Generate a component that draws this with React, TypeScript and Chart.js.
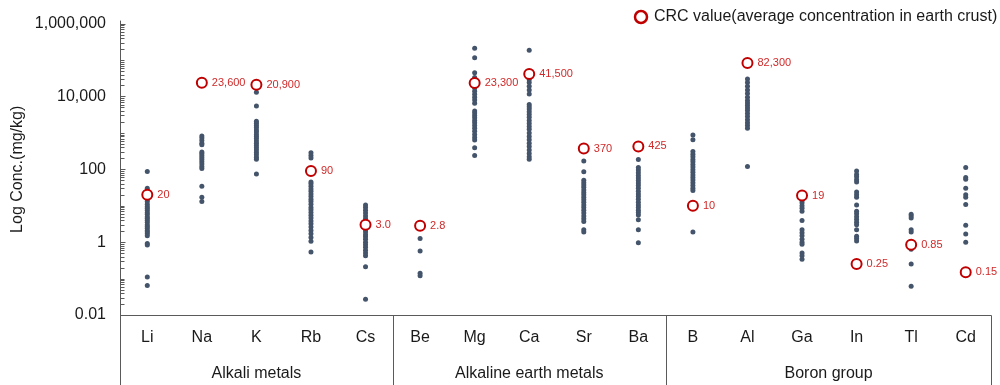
import React, { useEffect, useRef } from 'react';
import { Chart, registerables } from 'chart.js';

Chart.register(...registerables);

const elements = ['Li', 'Na', 'K', 'Rb', 'Cs', 'Be', 'Mg', 'Ca', 'Sr', 'Ba', 'B', 'Al', 'Ga', 'In', 'Tl', 'Cd'];
const groupNames = ['Alkali metals', 'Alkaline earth metals', 'Boron group'];
const groupSizes = [5, 5, 6];

const crcValues = [20, 23600, 20900, 90, 3.0, 2.8, 23300, 41500, 370, 425, 10, 82300, 19, 0.25, 0.85, 0.15];
const crcLabels = ['20', '23,600', '20,900', '90', '3.0', '2.8', '23,300', '41,500', '370', '425', '10', '82,300', '19', '0.25', '0.85', '0.15'];

const liValues = [87, 30, 25, 15, 13, 11, 9.5, 8.5, 7.5, 6.5, 5.8, 5, 4.5, 4, 3.5, 3, 2.7, 2.4, 2.1, 1.9, 1.7, 1.5, 0.92, 0.84, 0.11, 0.065];
const naValues = [820, 720, 620, 520, 470, 300, 270, 240, 210, 185, 160, 140, 120, 105, 34, 17, 13];
const kValues = [13000, 5500, 2100, 1850, 1600, 1400, 1200, 1050, 900, 800, 700, 600, 520, 450, 390, 340, 290, 250, 215, 190, 74];
const rbValues = [285, 240, 205, 45, 40, 34, 29, 25, 21, 18, 15, 13, 11, 9, 7.8, 6.5, 5.5, 4.6, 3.8, 3.2, 2.6, 2.1, 1.7, 1.35, 1.06, 0.54];
const csValues = [10.5, 9, 7.5, 6.3, 5.2, 4.4, 3.6, 3.1, 2.6, 2.2, 1.9, 1.6, 1.4, 1.2, 1.0, 0.85, 0.72, 0.6, 0.5, 0.42, 0.21, 0.027];
const beValues = [1.25, 0.57, 0.14, 0.12];
const mgValues = [210000, 115000, 45000, 33000, 17000, 14000, 11500, 9500, 8000, 6500, 4000, 3500, 3000, 2600, 2200, 1900, 1600, 1350, 1100, 900, 750, 640, 390, 240];
const caValues = [185000, 34000, 29000, 24000, 19000, 15000, 11700, 6000, 5200, 4500, 3800, 3200, 2700, 2200, 1800, 1500, 1250, 1000, 800, 650, 520, 420, 340, 270, 220, 190];
const srValues = [170, 86, 50, 43, 37, 32, 27, 23, 20, 17, 14.5, 12.5, 10.5, 9, 7.5, 6.3, 5.2, 4.4, 3.7, 2.2, 1.9];
const baValues = [187, 112, 95, 80, 68, 58, 49, 42, 36, 30, 25, 21, 18, 15, 12.5, 10.5, 9, 7.5, 6.5, 5.6, 4.1, 2.2, 0.96];
const bValues = [880, 650, 310, 260, 220, 185, 160, 135, 115, 97, 83, 70, 60, 51, 43, 36, 30, 26, 1.9];
const alValues = [30000, 24000, 19000, 15000, 12000, 9500, 7800, 6600, 5600, 4800, 4100, 3400, 2800, 2300, 1900, 1600, 1350, 120];
const gaValues = [14, 12, 10, 8.5, 7, 3.9, 2.2, 1.8, 1.5, 1.2, 1.0, 0.87, 0.5, 0.42, 0.34];
const inValues = [90, 72, 62, 52, 45, 24, 20, 17, 10.4, 7, 6, 5, 4.2, 3.5, 3, 2.2, 1.45, 1.25, 1.08];
const tlValues = [5.8, 5.2, 4.6, 2.2, 1.9, 0.64, 0.25, 0.062];
const cdValues = [112, 60, 53, 30, 20, 17, 10.8, 2.9, 1.67, 1.0];

const sampleSeries = [liValues, naValues, kValues, rbValues, csValues, beValues, mgValues, caValues, srValues, baValues, bValues, alValues, gaValues, inValues, tlValues, cdValues];

const yTickValues = [0.01, 1, 100, 10000, 1000000];
const yTickLabels = ['0.01', '1', '100', '10,000', '1,000,000'];

const legendText = 'CRC value(average concentration in earth crust)';
const yTitle = 'Log Conc.(mg/kg)';

const FONT = '"Liberation Sans", Arial, sans-serif';
const DOT = '#44546A';
const RED = '#C00000';
const RED_TEXT = '#D02A2A';
const LINE = '#5a5a5a';

function allLogTicks(min: number, max: number) {
  const out: number[] = [];
  const e0 = Math.round(Math.log10(min));
  const e1 = Math.round(Math.log10(max));
  for (let e = e0; e < e1; e++) {
    for (let m = 1; m <= 9; m++) out.push(m * Math.pow(10, e));
  }
  out.push(max);
  return out;
}

function labelFor(v: number) {
  for (let i = 0; i < yTickValues.length; i++) {
    if (Math.abs(Math.log10(v) - Math.log10(yTickValues[i])) < 1e-6) return yTickLabels[i];
  }
  return '';
}

const decorPlugin = {
  id: 'decor',
  afterDatasetsDraw(chart: any) {
    const ctx = chart.ctx;
    const crcMeta = chart.getDatasetMeta(0);
    ctx.save();
    ctx.font = `11px ${FONT}`;
    ctx.fillStyle = RED_TEXT;
    ctx.textAlign = 'left';
    ctx.textBaseline = 'middle';
    crcMeta.data.forEach((pt: any, i: number) => {
      ctx.fillText(crcLabels[i], pt.x + 10, pt.y);
    });
    ctx.restore();
  },
  afterDraw(chart: any) {
    const ctx = chart.ctx;
    const xs = chart.scales.x;
    const ys = chart.scales.y;
    const { left, right, top, bottom } = chart.chartArea;
    const H = chart.height;
    ctx.save();
    ctx.strokeStyle = LINE;
    ctx.lineWidth = 1;
    const ax = Math.round(left) + 0.5;
    const by = Math.round(bottom) + 0.5;
    const rx = Math.round(right) - 1.5;
    ctx.beginPath();
    ctx.moveTo(ax, top - 3);
    ctx.lineTo(ax, H);
    ctx.stroke();
    // inward ticks
    const ticks = allLogTicks(0.01, 1000000);
    ctx.beginPath();
    ticks.forEach((v) => {
      const py = Math.round(ys.getPixelForValue(v)) + 0.5;
      const len = labelFor(v) ? 5 : 4;
      ctx.moveTo(ax, py);
      ctx.lineTo(ax + len, py);
    });
    ctx.stroke();
    // table
    ctx.beginPath();
    ctx.moveTo(ax, by);
    ctx.lineTo(rx, by);
    ctx.moveTo(rx, by);
    ctx.lineTo(rx, H);
    ctx.stroke();
    let idx = 0;
    let startX = left;
    ctx.font = `16px ${FONT}`;
    ctx.fillStyle = '#1a1a1a';
    ctx.textAlign = 'center';
    ctx.textBaseline = 'middle';
    groupSizes.forEach((size, g) => {
      idx += size;
      let endX = rx;
      if (idx < elements.length) {
        endX = (xs.getPixelForValue(idx - 1) + xs.getPixelForValue(idx)) / 2;
        const sx = Math.round(endX) + 0.5;
        ctx.beginPath();
        ctx.moveTo(sx, by);
        ctx.lineTo(sx, H);
        ctx.stroke();
      }
      ctx.fillText(groupNames[g], (startX + endX) / 2, 374);
      startX = endX;
    });
    // legend
    ctx.beginPath();
    ctx.strokeStyle = RED;
    ctx.lineWidth = 2.5;
    ctx.fillStyle = '#fff';
    ctx.arc(641, 17, 6, 0, Math.PI * 2);
    ctx.fill();
    ctx.stroke();
    ctx.fillStyle = '#1a1a1a';
    ctx.textAlign = 'left';
    ctx.font = `16px ${FONT}`;
    ctx.fillText(legendText, 654, 17);
    ctx.restore();
  },
};

export default function App() {
  const canvasRef = useRef<HTMLCanvasElement | null>(null);

  useEffect(() => {
    if (!canvasRef.current) return;
    const sampleData: { x: string; y: number }[] = [];
    sampleSeries.forEach((arr, i) => arr.forEach((v) => sampleData.push({ x: elements[i], y: v })));
    const crcData = crcValues.map((v, i) => ({ x: elements[i], y: v }));

    const chart = new Chart(canvasRef.current, {
      type: 'scatter',
      data: {
        labels: elements,
        datasets: [
          {
            label: legendText,
            data: crcData,
            pointRadius: 5,
            pointBorderWidth: 2,
            borderColor: RED,
            backgroundColor: '#ffffff',
            pointBackgroundColor: '#ffffff',
            pointBorderColor: RED,
          },
          {
            label: 'samples',
            data: sampleData,
            pointRadius: 2.5,
            pointBorderWidth: 0,
            backgroundColor: DOT,
            borderColor: DOT,
            pointBackgroundColor: DOT,
          },
        ],
      },
      options: {
        responsive: false,
        animation: false,
        devicePixelRatio: 1,
        layout: { padding: { top: 18, right: 2, left: 0, bottom: 0 } },
        plugins: {
          legend: { display: false },
          tooltip: { enabled: false },
        },
        scales: {
          x: {
            type: 'category',
            labels: elements,
            offset: true,
            grid: { display: false, drawTicks: false },
            border: { display: false },
            ticks: {
              font: { size: 16, family: FONT },
              color: '#1a1a1a',
              padding: 13,
              autoSkip: false,
              maxRotation: 0,
            },
            afterFit: (scale: any) => {
              scale.height = 70;
            },
          },
          y: {
            type: 'logarithmic',
            min: 0.01,
            max: 1000000,
            grid: { display: false, drawTicks: false },
            border: { display: false },
            afterBuildTicks: (scale: any) => {
              scale.ticks = allLogTicks(0.01, 1000000).map((v) => ({ value: v }));
            },
            ticks: {
              autoSkip: false,
              padding: 14,
              font: { size: 16, family: FONT },
              color: '#1a1a1a',
              callback: (value: any) => labelFor(Number(value)),
            },
            title: {
              display: true,
              text: yTitle,
              font: { size: 16, family: FONT },
              color: '#1a1a1a',
              padding: { top: 8, bottom: 0 },
            },
            afterFit: (scale: any) => {
              scale.width = 120;
            },
          },
        },
      },
      plugins: [decorPlugin],
    });
    return () => chart.destroy();
  }, []);

  return (
    <div style={{ position: 'fixed', left: 0, top: 0, width: 1000, height: 385, background: '#fff' }}>
      <canvas ref={canvasRef} width={1000} height={385} style={{ width: 1000, height: 385, display: 'block' }} />
    </div>
  );
}
